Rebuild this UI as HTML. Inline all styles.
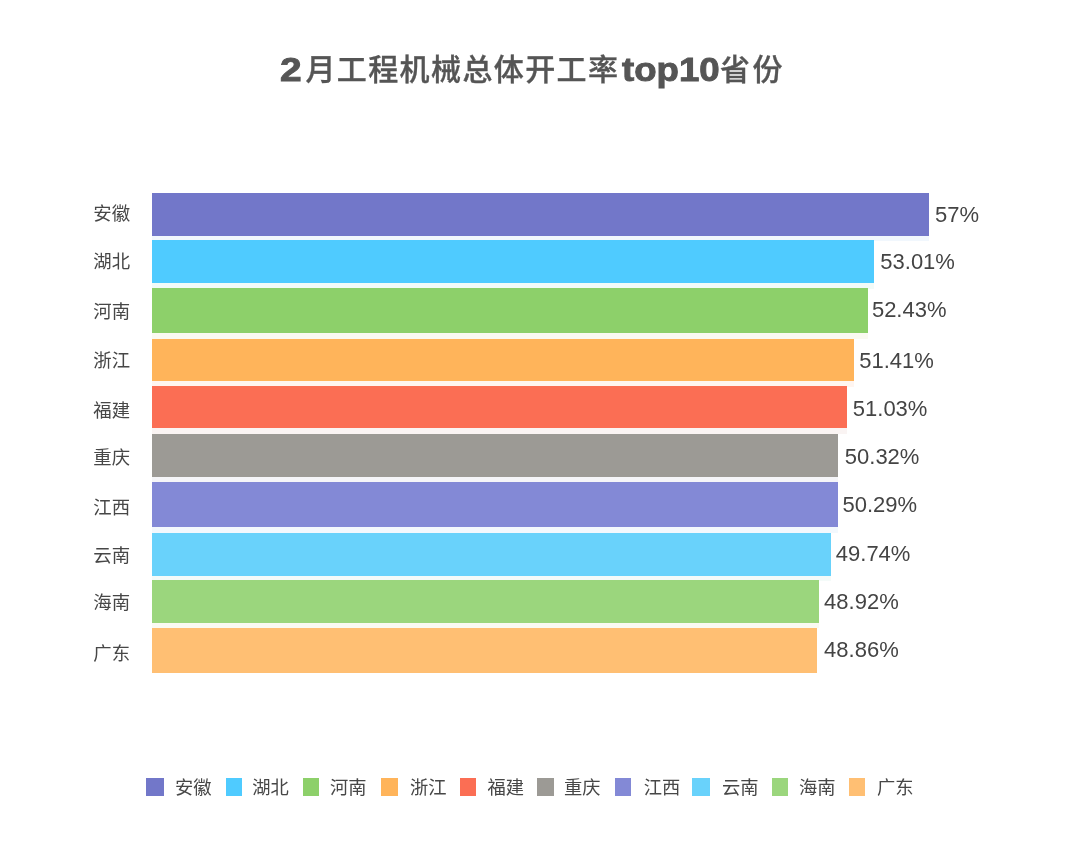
<!DOCTYPE html>
<html lang="zh-CN">
<head>
<meta charset="utf-8">
<title>2月工程机械总体开工率top10省份</title>
<style>
html,body{margin:0;padding:0;background:#fff;}
body{width:1080px;height:856px;position:relative;overflow:hidden;font-family:"Liberation Sans","Noto Sans CJK SC",sans-serif;}
.title{position:absolute;left:0;top:46px;width:1080px;height:46px;font-size:30px;line-height:46px;font-weight:bold;color:#555;white-space:nowrap;}
.title span{position:absolute;top:0;display:block;}
.title .cjk{letter-spacing:1.4px;font-weight:500;-webkit-text-stroke:0.35px #555;top:1px;}
.title .lat{font-family:"Liberation Sans",sans-serif;font-size:32.4px;-webkit-text-stroke:0.9px #555;transform-origin:0 50%;transform:scaleX(1.13);top:0.5px;}
.bar{position:absolute;}
.cat{position:absolute;left:93.3px;width:40px;font-size:18.4px;line-height:44px;color:#474747;white-space:nowrap;}
.val{position:absolute;font-size:22px;line-height:44px;color:#444;white-space:nowrap;}
.sw{position:absolute;top:778.3px;width:18px;height:17.9px;}
.lg{position:absolute;top:774px;font-size:18.3px;line-height:27px;color:#474747;white-space:nowrap;}
</style>
</head>
<body>
<div class="title"><span class="lat" style="left:279.8px;transform:scaleX(1.2)">2</span><span class="cjk" style="left:305.4px">月工程机械总体开工率</span><span class="lat" style="left:621.5px">top10</span><span class="cjk" style="left:720px;letter-spacing:2.4px">省份</span></div>

<div class="cat" style="top:191.9px">安徽</div>
<div class="bar" style="left:152.4px;top:235.0px;width:776.9px;height:5.8px;background:rgb(241,247,253)"></div>
<div class="bar" style="left:152.4px;top:282.6px;width:722.0px;height:6.1px;background:rgb(242,251,248)"></div>
<div class="bar" style="left:152.4px;top:332.8px;width:715.2px;height:6.2px;background:rgb(250,250,241)"></div>
<div class="bar" style="left:152.4px;top:380.2px;width:701.7px;height:6.6px;background:rgb(255,245,240)"></div>
<div class="bar" style="left:152.4px;top:427.9px;width:694.8px;height:6.6px;background:rgb(250,244,243)"></div>
<div class="bar" style="left:152.4px;top:476.5px;width:685.4px;height:5.6px;background:rgb(245,245,248)"></div>
<div class="bar" style="left:152.4px;top:526.5px;width:685.4px;height:6.6px;background:rgb(243,248,253)"></div>
<div class="bar" style="left:152.4px;top:575.1px;width:678.4px;height:5.7px;background:rgb(244,251,249)"></div>
<div class="bar" style="left:152.4px;top:622.8px;width:667.1px;height:5.7px;background:rgb(250,250,243)"></div>
<div class="bar" style="left:152.4px;top:192.5px;width:776.9px;height:43.0px;background:#7277c9"></div>
<div class="val" style="left:935.0px;top:192.7px">57%</div>
<div class="cat" style="top:239.6px">湖北</div>
<div class="bar" style="left:152.4px;top:240.3px;width:722.0px;height:42.8px;background:#4fcbff"></div>
<div class="val" style="left:880.3px;top:240.3px">53.01%</div>
<div class="cat" style="top:289.5px">河南</div>
<div class="bar" style="left:152.4px;top:288.2px;width:715.2px;height:45.1px;background:#8dd06a"></div>
<div class="val" style="left:871.9px;top:287.8px">52.43%</div>
<div class="cat" style="top:338.5px">浙江</div>
<div class="bar" style="left:152.4px;top:338.5px;width:701.7px;height:42.2px;background:#ffb45a"></div>
<div class="val" style="left:859.2px;top:339.0px">51.41%</div>
<div class="cat" style="top:388.5px">福建</div>
<div class="bar" style="left:152.4px;top:386.3px;width:694.8px;height:42.1px;background:#fb6e54"></div>
<div class="val" style="left:852.8px;top:386.8px">51.03%</div>
<div class="cat" style="top:436.4px">重庆</div>
<div class="bar" style="left:152.4px;top:434.0px;width:685.4px;height:43.0px;background:#9c9a95"></div>
<div class="val" style="left:844.8px;top:434.6px">50.32%</div>
<div class="cat" style="top:486.1px">江西</div>
<div class="bar" style="left:152.4px;top:481.6px;width:685.4px;height:45.4px;background:#8389d6"></div>
<div class="val" style="left:842.5px;top:482.7px">50.29%</div>
<div class="cat" style="top:534.1px">云南</div>
<div class="bar" style="left:152.4px;top:532.6px;width:678.4px;height:43.0px;background:#69d2fb"></div>
<div class="val" style="left:835.8px;top:532.2px">49.74%</div>
<div class="cat" style="top:581.4px">海南</div>
<div class="bar" style="left:152.4px;top:580.3px;width:667.1px;height:43.0px;background:#9bd67d"></div>
<div class="val" style="left:824.1px;top:579.8px">48.92%</div>
<div class="cat" style="top:632.4px">广东</div>
<div class="bar" style="left:152.4px;top:628.0px;width:665.1px;height:44.9px;background:#ffbf73"></div>
<div class="val" style="left:824.1px;top:628.1px">48.86%</div>
<div class="sw" style="left:145.8px;width:18.0px;background:#7277c9"></div>
<div class="lg" style="left:175.0px">安徽</div>
<div class="sw" style="left:225.6px;width:16.0px;background:#4fcbff"></div>
<div class="lg" style="left:252.2px">湖北</div>
<div class="sw" style="left:302.8px;width:16.2px;background:#8dd06a"></div>
<div class="lg" style="left:330.0px">河南</div>
<div class="sw" style="left:380.5px;width:17.9px;background:#ffb45a"></div>
<div class="lg" style="left:410.1px">浙江</div>
<div class="sw" style="left:460.0px;width:16.1px;background:#fb6e54"></div>
<div class="lg" style="left:487.5px">福建</div>
<div class="sw" style="left:537.2px;width:16.4px;background:#9c9a95"></div>
<div class="lg" style="left:564.1px">重庆</div>
<div class="sw" style="left:614.9px;width:16.0px;background:#8389d6"></div>
<div class="lg" style="left:643.8px">江西</div>
<div class="sw" style="left:692.2px;width:18.1px;background:#69d2fb"></div>
<div class="lg" style="left:722.0px">云南</div>
<div class="sw" style="left:771.8px;width:16.1px;background:#9bd67d"></div>
<div class="lg" style="left:799.1px">海南</div>
<div class="sw" style="left:848.9px;width:16.2px;background:#ffbf73"></div>
<div class="lg" style="left:877.0px">广东</div>
</body>
</html>
